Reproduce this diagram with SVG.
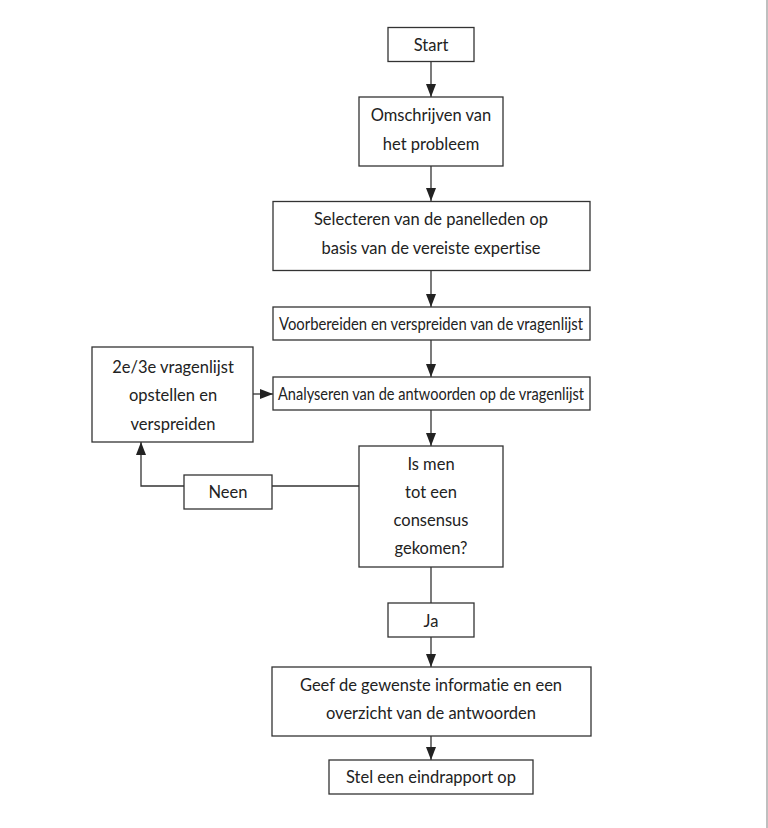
<svg xmlns="http://www.w3.org/2000/svg" width="768" height="828" viewBox="0 0 768 828">
<style>
.box{fill:#fff;stroke:#333;stroke-width:1.3}
.t{font-family:Lato,"Open Sans","Liberation Sans",sans-serif;font-size:16.5px;fill:#222;text-anchor:middle;dominant-baseline:central;font-variant-ligatures:none;font-feature-settings:"liga" 0,"dlig" 0}
.c{fill:none;stroke:#333;stroke-width:1.3}
</style>
<defs>
<marker id="ah" markerWidth="13" markerHeight="10" refX="13" refY="5" orient="auto" markerUnits="userSpaceOnUse" viewBox="0 0 13 10">
<path d="M0,0 L13,5 L0,10 Z" fill="#222"/>
</marker>
</defs>
<rect width="768" height="828" fill="#fff"/>
<line x1="767" y1="0" x2="767" y2="828" stroke="#aaa" stroke-width="1.5"/>
<g id="connectors">
<line class="c" x1="431" y1="61" x2="431" y2="97" marker-end="url(#ah)"/>
<line class="c" x1="431" y1="166" x2="431" y2="201" marker-end="url(#ah)"/>
<line class="c" x1="431" y1="271" x2="431" y2="307" marker-end="url(#ah)"/>
<line class="c" x1="431" y1="340" x2="431" y2="377" marker-end="url(#ah)"/>
<line class="c" x1="431" y1="410" x2="431" y2="446" marker-end="url(#ah)"/>
<line class="c" x1="253" y1="394" x2="273" y2="394" marker-end="url(#ah)"/>
<line class="c" x1="359" y1="486" x2="272" y2="486"/>
<polyline class="c" points="184,486 141,486 141,442" marker-end="url(#ah)"/>
<line class="c" x1="431" y1="567" x2="431" y2="603"/>
<line class="c" x1="431" y1="637" x2="431" y2="667" marker-end="url(#ah)"/>
<line class="c" x1="431" y1="736" x2="431" y2="760" marker-end="url(#ah)"/>
</g>
<g id="start">
<rect class="box" x="388" y="27.5" width="86" height="34"/>
<text class="t" x="431" y="45">Start</text>
</g>
<g id="omschrijven">
<rect class="box" x="359" y="97" width="144" height="69"/>
<text class="t" x="431" y="115">Omschrijven van</text>
<text class="t" x="431" y="144">het probleem</text>
</g>
<g id="selecteren">
<rect class="box" x="273" y="201.5" width="317" height="69"/>
<text class="t" x="431" y="219">Selecteren van de panelleden op</text>
<text class="t" x="431" y="248">basis van de vereiste expertise</text>
</g>
<g id="voorbereiden">
<rect class="box" x="273" y="307" width="317" height="33"/>
<text class="t" x="431" y="324" textLength="304" lengthAdjust="spacingAndGlyphs">Voorbereiden en verspreiden van de vragenlijst</text>
</g>
<g id="analyseren">
<rect class="box" x="273" y="377" width="317" height="33"/>
<text class="t" x="431" y="394" textLength="306" lengthAdjust="spacingAndGlyphs">Analyseren van de antwoorden op de vragenlijst</text>
</g>
<g id="vragenlijst">
<rect class="box" x="92" y="347" width="161" height="95"/>
<text class="t" x="173" y="367">2e/3e vragenlijst</text>
<text class="t" x="173" y="395">opstellen en</text>
<text class="t" x="173" y="424">verspreiden</text>
</g>
<g id="consensus">
<rect class="box" x="359" y="446" width="144" height="121"/>
<text class="t" x="431" y="464">Is men</text>
<text class="t" x="431" y="492">tot een</text>
<text class="t" x="431" y="520">consensus</text>
<text class="t" x="431" y="548">gekomen?</text>
</g>
<g id="neen">
<rect class="box" x="184" y="475" width="88" height="34"/>
<text class="t" x="228" y="492">Neen</text>
</g>
<g id="ja">
<rect class="box" x="388" y="603" width="86" height="34"/>
<text class="t" x="431" y="621">Ja</text>
</g>
<g id="geef">
<rect class="box" x="272" y="667" width="319" height="69"/>
<text class="t" x="431" y="685">Geef de gewenste informatie en een</text>
<text class="t" x="431" y="713">overzicht van de antwoorden</text>
</g>
<g id="stel">
<rect class="box" x="329" y="760" width="204" height="34"/>
<text class="t" x="431" y="777">Stel een eindrapport op</text>
</g>
</svg>
